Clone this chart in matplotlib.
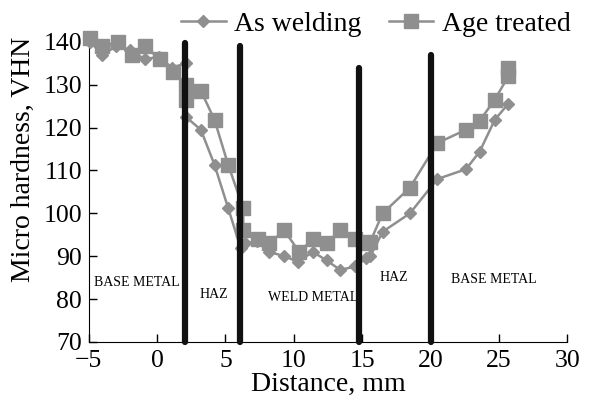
import matplotlib
matplotlib.use("Agg")
import matplotlib.pyplot as plt

plt.rcParams["font.family"] = ["Liberation Serif", "DejaVu Serif"]

#
# Data
#

weld_x = [-4.9, -4.0, -3.0, -2.0, -0.9, 0.1, 1.1, 2.1, 2.1, 3.2, 4.2, 5.2, 6.1, 6.4, 7.3,
          8.2, 9.3, 10.3, 11.4, 12.4, 13.4, 14.5, 15.3, 15.6, 16.5, 18.5, 20.5, 22.6,
          23.6, 24.7, 25.7]
weld_y = [140, 137, 139, 138, 136, 136.5, 134, 135, 122.5, 119.5, 111.3, 101.2, 92, 93, 93.5,
          91, 90, 88.7, 91, 89, 86.8, 87.6, 89.6, 90, 95.7, 100, 108, 110.3,
          114.4, 121.8, 125.6]

aged_x = [-4.9, -4.0, -2.9, -1.85, -0.9, 0.2, 1.15, 2.1, 2.1, 3.2, 4.2, 5.2, 6.3, 6.3, 7.4,
          8.2, 9.3, 10.4, 11.4, 12.4, 13.4, 14.5, 15.3, 15.6, 16.5, 18.5, 20.5, 22.6,
          23.6, 24.7, 25.7, 25.7]
aged_y = [141, 139, 140, 137, 139, 136, 133, 130, 126.5, 128.6, 121.8, 111.3, 101.2, 96, 94,
          93, 96, 91, 94, 93, 96, 94, 93, 93.4, 100, 106, 116.4, 119.5,
          121.6, 126.5, 132, 134]

zone_x = [2.05, 6.05, 14.8, 20.05]
zone_top = [139.8, 139, 134, 137]

zone_names = ["BASE METAL", "HAZ", "WELD METAL", "HAZ", "BASE METAL"]
zone_label_x = [-1.5, 4.15, 11.4, 17.3, 24.6]
zone_label_y = [83.8, 81, 80.3, 85, 84.5]

#
# Plot
#

fig = plt.figure(figsize=(5.92, 4.07), dpi=100)
ax = fig.add_axes([0.150, 0.160, 0.808, 0.737])

grey = "#8f8f8f"
ax.plot(weld_x, weld_y, color=grey, lw=1.8, marker="D", markersize=6.5,
        label="As welding", clip_on=False, zorder=3)
ax.plot(aged_x, aged_y, color=grey, lw=1.8, marker="s", markersize=10,
        label="Age treated", clip_on=False, zorder=3)

for xv, top in zip(zone_x, zone_top):
    ax.plot([xv, xv], [70, top], color="#111111", lw=4.5,
            solid_capstyle="round", zorder=4, clip_on=False)

for name, xv, yv in zip(zone_names, zone_label_x, zone_label_y):
    ax.text(xv, yv, name, fontsize=10, ha="center", va="center")

ax.set_xlim(-5, 30)
ax.set_ylim(70, 140)
ax.set_xticks(range(-5, 31, 5))
ax.set_yticks(range(70, 141, 10))
ax.set_xticklabels(["\u2212" + str(-v) if v < 0 else str(v) for v in range(-5, 31, 5)])

ax.spines["top"].set_visible(False)
ax.spines["right"].set_visible(False)
ax.tick_params(direction="in", labelsize=18.5, length=6, width=1)
ax.tick_params(axis="x", pad=6)
ax.tick_params(axis="y", pad=5)

ax.set_xlabel("Distance, mm", fontsize=20, labelpad=0)
ax.set_ylabel("Micro hardness, VHN", fontsize=20)
ax.yaxis.set_label_coords(-0.11, 0.61)

ax.legend(loc="center", bbox_to_anchor=(0.60, 1.06), ncol=2, frameon=False,
          fontsize=20, handlelength=1.6, columnspacing=1.0, handletextpad=0.3,
          borderpad=0)

fig.savefig("out.png", dpi=100)
